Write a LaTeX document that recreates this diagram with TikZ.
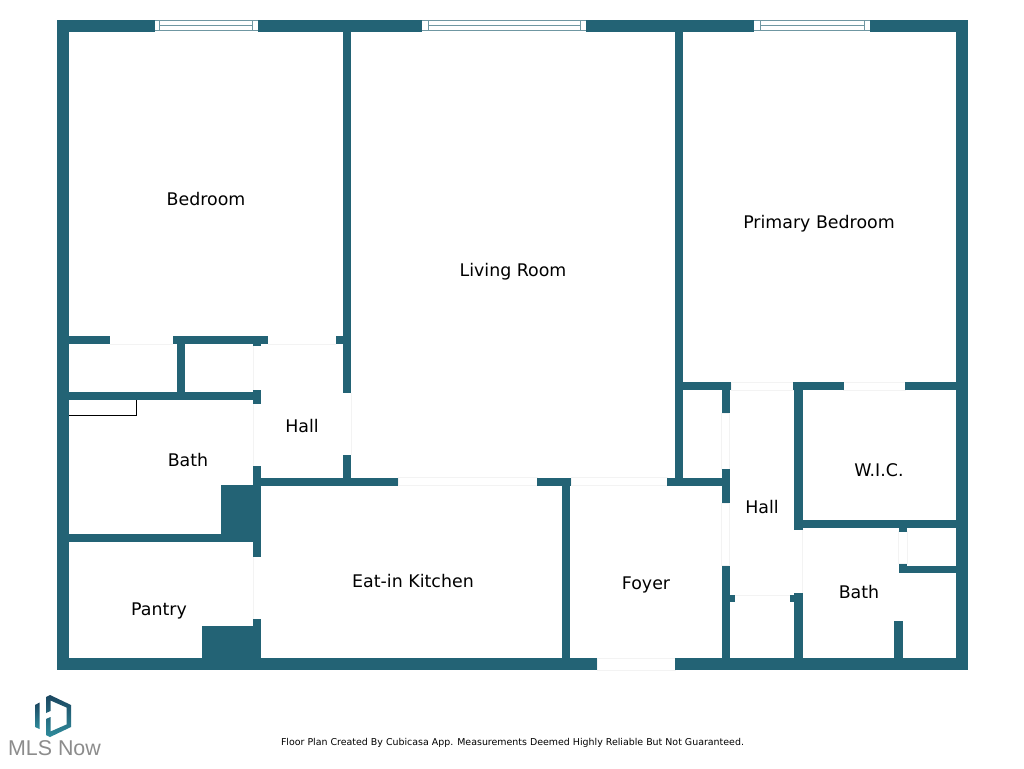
\documentclass[tikz,border=0pt]{standalone}
\usepackage{fontspec}
\setmainfont{DejaVu Sans}
\newfontfamily\logofont{Liberation Sans}
\definecolor{wallteal}{HTML}{236375}
\definecolor{frameteal}{HTML}{6F97A2}
\definecolor{doorgray}{HTML}{F3F3F3}
\definecolor{logotop}{HTML}{1B4660}
\definecolor{logobottom}{HTML}{2F8C9C}
\begin{document}
\begin{tikzpicture}[x=1pt, y=-1pt,
    wall/.style = {fill=wallteal},
    doorline/.style = {draw=doorgray, line width=0.8pt},
    frameline/.style = {draw=frameteal, line width=1pt},
    room/.style = {anchor=base, inner sep=0pt, font=\fontsize{17.4}{20}\selectfont, text=black}]
    \useasboundingbox (0,0) rectangle (1024,768);
    \fill[white] (0,0) rectangle (1024,768);

    % door openings
    \foreach \xa/\ya/\xb/\yb in {398/477.5/537.3/485.5, 571/477.5/667.3/485.5,
        597/658/675/670, 721.7/413.3/729.7/469, 721.7/503.3/729.7/565.7, 731/382/793/390,
        843.5/382/905.3/390, 898.7/531.7/907/563.7}
        \draw[doorline] (\xa,\ya) rectangle (\xb,\yb);
    \foreach \xa/\ya/\xb/\yb in {110/344/173/344, 268/344/336/344, 253/346/253/389.5, 253/404/253/466,
        253/557/253/619.3, 351.5/393/351.5/455, 735.3/595/790.3/595, 802.7/530.3/802.7/592.7}
        \draw[doorline] (\xa,\ya) -- (\xb,\yb);

    % walls
    \foreach \xa/\ya/\xb/\yb in {57/20/155/32, 258/20/422.3/32, 585.7/20/754.3/32, 870/20/968/32,
        57/20/69/670, 956/20/968/670, 57/658/597/670, 675/658/968/670,
        343/32/351/393, 343/455/351/478, 675/32/682.7/478,
        69/336/110/344, 173/336/268/344, 336/336/343/344, 177.3/344/185.3/392,
        69/391.5/253/400, 253/344/261/346, 253/389.5/261/404, 253/466/261/557,
        261/477.5/398/485.5, 537.3/477.5/571/485.5, 561.7/485.5/569.5/658, 667.3/477.5/722/485.5,
        221.3/485/253/534, 69/534/253/542.3, 253/619.3/261/658, 201.7/626/253/658,
        682/382/731/390, 793/382/843.5/390, 905.3/382/956/390,
        721.7/390/729.7/413.3, 721.7/469/729.7/503.3, 721.7/565.7/729.7/658, 729/594.7/735.3/602.3,
        794.3/390/802.7/530.3, 794.3/592.7/802.7/658, 790.3/594.7/795/602.3,
        802/520.3/956/528.3, 898.7/528/907/531.7, 898.7/563.7/907/567, 898.7/565.7/956/573.3,
        894.3/620.7/902.7/658}
        \fill[wall] (\xa,\ya) rectangle (\xb,\yb);

    % windows
    \foreach \xa/\xb/\xc/\xd in {155/159.7/252.3/258, 422.3/428/580/585.7, 754.3/760/864/870} {
        \draw[frameline] (\xa,20.5) -- (\xd,20.5);
        \draw[frameline] (\xa,31) -- (\xd,31);
        \draw[frameline] (\xb,25.7) -- (\xc,25.7);
        \draw[frameline] (\xb,20.5) -- (\xb,31);
        \draw[frameline] (\xc,20.5) -- (\xc,31);
    }

    % cabinet
    \draw[black, line width=0.9pt] (69,415.3) -- (136.5,415.3) -- (136.5,400);

    \node[room] (bedroom) at (206,205.2) {Bedroom};
    \node[room] (living) at (513,276.2) {Living Room};
    \node[room] (primary) at (819,228.2) {Primary Bedroom};
    \node[room] (hallwest) at (302,432.2) {Hall};
    \node[room] (bathwest) at (188,466.2) {Bath};
    \node[room] (kitchen) at (413,587.2) {Eat-in Kitchen};
    \node[room] (foyer) at (646,589.2) {Foyer};
    \node[room] (halleast) at (762,513.2) {Hall};
    \node[room] (wic) at (879,476.2) {W.I.C.};
    \node[room] (batheast) at (859,598) {Bath};
    \node[room] (pantry) at (159,615) {Pantry};

    % logo
    \shade[top color=logotop, bottom color=logobottom] (46,697) -- (50,695) -- (71,705) -- (71,727) -- (50,737)
        -- (46,735) -- (46,719) -- (50.5,717) -- (50.5,731.5) -- (66.5,724.5) -- (66.5,707.5) -- (50.5,700.5)
        -- (50.5,711) -- (46,713) -- cycle;
    \shade[top color=logotop, bottom color=logobottom] (35,705) -- (39.5,702.5) -- (39.5,729) -- (35,727) -- cycle;
    \node[anchor=base, inner sep=0pt, text=black!45, font=\logofont\fontsize{21.4}{24}\selectfont] (mls) at (54.5,755) {MLS Now};

    \node[anchor=base, inner sep=0pt, text=black, font=\fontsize{9.44}{12}\selectfont] (footer) at (512.5,745.5)
        {Floor Plan Created By Cubicasa App. Measurements Deemed Highly Reliable But Not Guaranteed.};
\end{tikzpicture}
\end{document}
